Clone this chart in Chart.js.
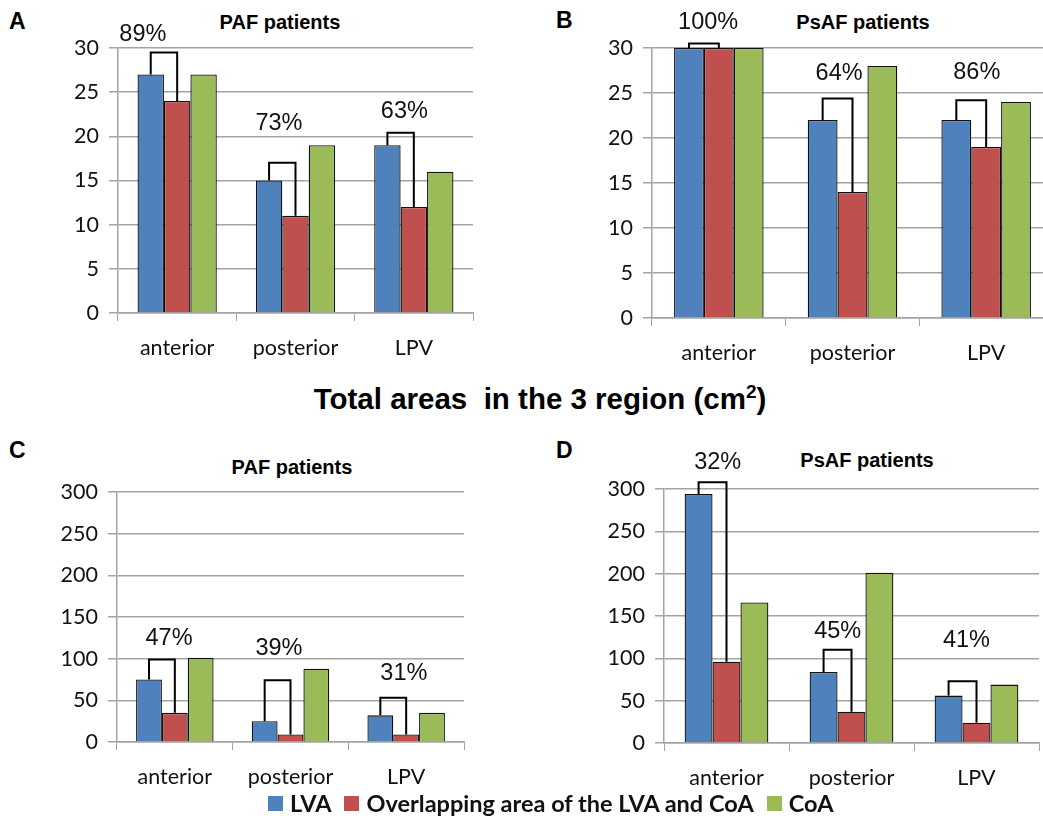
<!DOCTYPE html>
<html>
<head>
<meta charset="utf-8">
<script src="https://cdn.jsdelivr.net/npm/chart.js@4.4.1/dist/chart.umd.min.js"></script>
<style>
    body { margin: 0; width: 1043px; height: 825px; overflow: hidden; background: #fff; position: relative; }
    .box { position: absolute; }
    .txt { position: absolute; transform: translate(-50%, -50%); white-space: nowrap; line-height: 1; color: #000; }
    .letra { font: bold 23px "Liberation Sans", Arial, sans-serif; }
    .titulo { font: bold 20px "Liberation Sans", Arial, sans-serif; }
    .principal { font: bold 29.5px "Liberation Sans", Arial, sans-serif; }
    .legenda { position: absolute; left: 268px; top: 803px; transform: translateY(-50%); display: flex; align-items: center;
        font: bold 23.5px Lato, "Open Sans", sans-serif; color: #111; white-space: nowrap; }
    .legenda span.q { display: inline-block; width: 15px; height: 15px; margin-right: 7px; }
    .legenda span.t { margin-right: 13px; }
</style>
</head>
<body>
<div class="txt letra" style="left:9px; top:21px; transform:translateY(-50%)">A</div>
<div class="txt letra" style="left:556px; top:20px; transform:translateY(-50%)">B</div>
<div class="txt letra" style="left:9px; top:450px; transform:translateY(-50%)">C</div>
<div class="txt letra" style="left:556px; top:450px; transform:translateY(-50%)">D</div>

<div class="txt titulo" style="left:280px; top:22px">PAF patients</div>
<div class="txt titulo" style="left:863px; top:22px">PsAF patients</div>
<div class="txt titulo" style="left:292px; top:467px">PAF patients</div>
<div class="txt titulo" style="left:867px; top:460px">PsAF patients</div>

<div class="txt principal" style="left:540px; top:398px">Total areas&nbsp; in the 3 region (cm<sup style="font-size:19px; vertical-align:11px">2</sup>)</div>

<div class="box" style="left:20px; top:0px"><canvas id="chartA" width="480" height="365"></canvas></div>
<div class="box" style="left:540px; top:0px"><canvas id="chartB" width="540" height="365"></canvas></div>
<div class="box" style="left:20px; top:445px"><canvas id="chartC" width="480" height="348"></canvas></div>
<div class="box" style="left:540px; top:445px"><canvas id="chartD" width="530" height="348"></canvas></div>

<div class="legenda">
    <span class="q" style="background:#4F81BD"></span><span class="t">LVA</span>
    <span class="q" style="background:#C0504D"></span><span class="t">Overlapping area of the LVA and CoA</span>
    <span class="q" style="background:#9BBB59"></span><span class="t">CoA</span>
</div>

<script>
// dados
const regioes = ['anterior', 'posterior', 'LPV'];
const ticksPequenos = [0, 5, 10, 15, 20, 25, 30];
const ticksGrandes = [0, 50, 100, 150, 200, 250, 300];

// A - PAF (casos)
const aLva = [27, 15, 19];
const aSobreposicao = [24, 11, 12];
const aCoa = [27, 19, 16];
const aColchete = [29.5, 17, 20.4];
const aPercentual = ['89%', '73%', '63%'];
const aRotuloX = [-0.29, 0.86, 1.92];
const aRotuloY = [31.5, 21.5, 22.8];

// B - PsAF (casos)
const bLva = [30, 22, 22];
const bSobreposicao = [30, 14, 19];
const bCoa = [30, 28, 24];
const bColchete = [30.5, 24.4, 24.2];
const bPercentual = ['100%', '64%', '86%'];
const bRotuloX = [-0.08, 0.9, 1.93];
const bRotuloY = [32.8, 27.2, 27.3];

// C - PAF (areas)
const cLva = [75, 25, 32];
const cSobreposicao = [35, 9, 9];
const cCoa = [101, 88, 35];
const cColchete = [99, 74, 53];
const cPercentual = ['47%', '39%', '31%'];
const cRotuloX = [-0.05, 0.9, 1.98];
const cRotuloY = [124, 112, 82];

// D - PsAF (areas)
const dLva = [294, 84, 56];
const dSobreposicao = [96, 37, 24];
const dCoa = [166, 201, 69];
const dColchete = [308, 110, 73];
const dPercentual = ['32%', '45%', '41%'];
const dRotuloX = [-0.07, 0.89, 1.92];
const dRotuloY = [331, 132, 121];

const corLva = '#4F81BD';
const corSobreposicao = '#C0504D';
const corCoa = '#9BBB59';
const corGrade = '#a3a3a3';

// desenha o colchete entre LVA e sobreposicao e o percentual
const pluginColchete = {
    id: 'colchete',
    afterDatasetsDraw(chart, args, opts) {
        let ctx = chart.ctx;
        let x = chart.scales.x;
        let y = chart.scales.y;
        let barrasLva = chart.getDatasetMeta(0).data;
        let barrasSob = chart.getDatasetMeta(1).data;
        ctx.save();
        ctx.strokeStyle = '#000';
        ctx.lineWidth = 2;
        barrasLva.forEach((barra, i) => {
            let topo = y.getPixelForValue(opts.colchete[i]);
            ctx.beginPath();
            ctx.moveTo(barra.x, barra.y);
            ctx.lineTo(barra.x, topo);
            ctx.lineTo(barrasSob[i].x, topo);
            ctx.lineTo(barrasSob[i].x, barrasSob[i].y);
            ctx.stroke();
        });
        ctx.fillStyle = '#111';
        ctx.font = '23.5px "Liberation Sans", Arial, sans-serif';
        ctx.textAlign = 'center';
        ctx.textBaseline = 'middle';
        opts.percentual.forEach((texto, i) => {
            ctx.fillText(texto, x.getPixelForValue(opts.rotuloX[i]), y.getPixelForValue(opts.rotuloY[i]));
        });
        ctx.restore();
    }
};

function criarGrafico(id, lva, sob, coa, ticks, extra, medidas) {
    let ctx = document.getElementById(id).getContext('2d');
    return new Chart(ctx, {
        type: 'bar',
        data: {
            labels: regioes,
            datasets: [
                { label: 'LVA', data: lva, backgroundColor: corLva },
                { label: 'Overlapping area of the LVA and CoA', data: sob, backgroundColor: corSobreposicao },
                { label: 'CoA', data: coa, backgroundColor: corCoa }
            ]
        },
        options: {
            responsive: false,
            animation: false,
            layout: { padding: { top: medidas.topo, right: medidas.direita, left: 0, bottom: 0 } },
            datasets: {
                bar: { categoryPercentage: 0.67, barPercentage: 1, borderColor: '#111', borderWidth: 1.3, borderSkipped: 'bottom' }
            },
            plugins: {
                legend: { display: false },
                tooltip: { enabled: false },
                colchete: extra
            },
            scales: {
                x: {
                    afterFit: (escala) => { escala.height = medidas.eixoX; },
                    grid: { display: true, drawOnChartArea: false, drawTicks: true, tickLength: 8, color: corGrade, offset: true },
                    border: { display: true, color: corGrade, width: 1.5 },
                    ticks: { color: '#111', padding: 14, font: { family: 'Lato', size: 21.5 } }
                },
                y: {
                    min: ticks[0],
                    max: ticks[ticks.length - 1],
                    afterFit: (escala) => { escala.width = medidas.eixoY; },
                    afterBuildTicks: (escala) => { escala.ticks = ticks.map(v => ({ value: v })); },
                    grid: { color: corGrade, lineWidth: 1.5, tickLength: 9 },
                    border: { display: true, color: corGrade, width: 1.5 },
                    ticks: { color: '#111', padding: 10, font: { family: 'Lato', size: 21.5 } }
                }
            }
        },
        plugins: [pluginColchete]
    });
}

var graficoA = criarGrafico('chartA', aLva, aSobreposicao, aCoa, ticksPequenos,
    { colchete: aColchete, percentual: aPercentual, rotuloX: aRotuloX, rotuloY: aRotuloY },
    { topo: 48, direita: 27, eixoX: 52, eixoY: 98 });

var graficoB = criarGrafico('chartB', bLva, bSobreposicao, bCoa, ticksPequenos,
    { colchete: bColchete, percentual: bPercentual, rotuloX: bRotuloX, rotuloY: bRotuloY },
    { topo: 48, direita: 27, eixoX: 47, eixoY: 112 });

var graficoC = criarGrafico('chartC', cLva, cSobreposicao, cCoa, ticksGrandes,
    { colchete: cColchete, percentual: cPercentual, rotuloX: cRotuloX, rotuloY: cRotuloY },
    { topo: 47, direita: 36, eixoX: 51, eixoY: 97 });

var graficoD = criarGrafico('chartD', dLva, dSobreposicao, dCoa, ticksGrandes,
    { colchete: dColchete, percentual: dPercentual, rotuloX: dRotuloX, rotuloY: dRotuloY },
    { topo: 44, direita: 31, eixoX: 50, eixoY: 124 });
</script>
</body>
</html>
